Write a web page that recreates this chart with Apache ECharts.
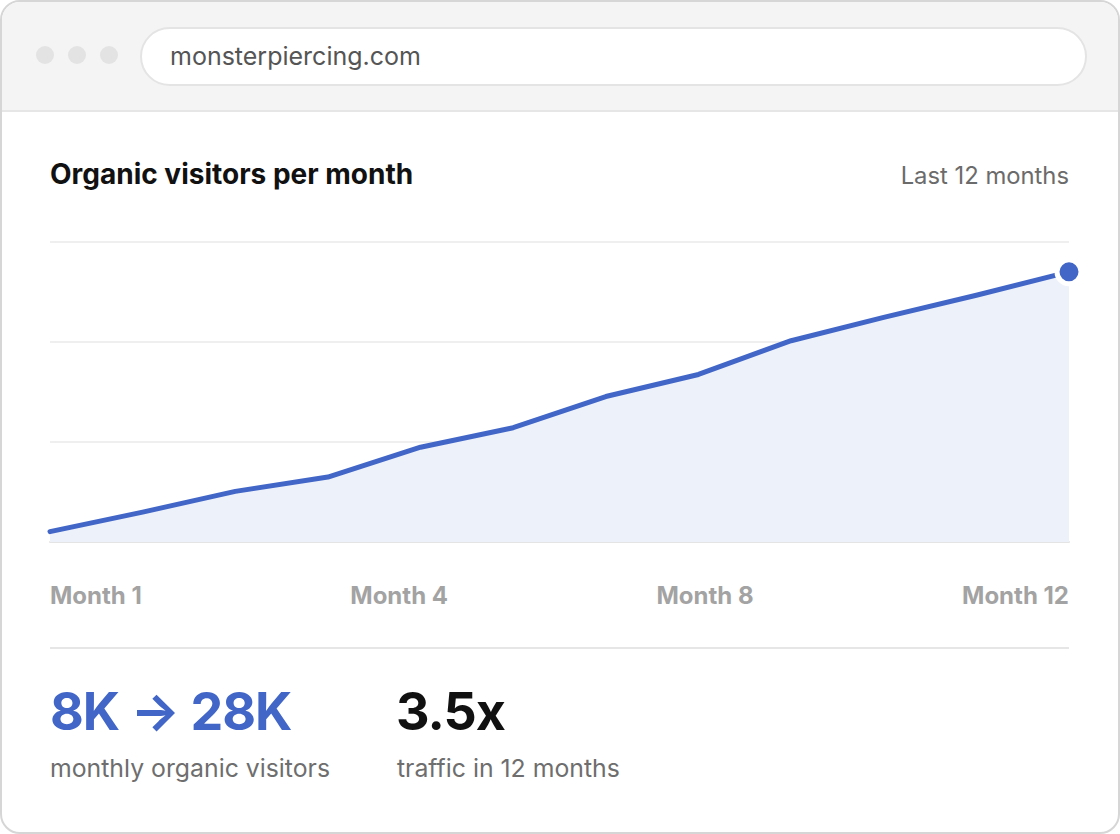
<!DOCTYPE html>
<html>
<head>
<meta charset="utf-8">
<script src="https://cdn.jsdelivr.net/npm/echarts@6/dist/echarts.min.js"></script>
<style>
  html, body { margin: 0; padding: 0; background: #fff; }
  body { width: 1120px; height: 834px; position: relative; overflow: hidden;
         font-family: Inter, "Noto Sans", sans-serif; }
  .card { position: absolute; left: 0; top: 0; width: 1120px; height: 834px;
          box-sizing: border-box; border: 2px solid #d6d6d6; border-radius: 20px;
          overflow: hidden; background: #fff; }
  .bar { position: absolute; left: 0; top: 0; width: 100%; height: 110px;
         box-sizing: border-box; background: #f4f4f4; border-bottom: 2px solid #e6e6e6; }
  .dot { position: absolute; top: 44px; width: 18px; height: 18px; border-radius: 50%; background: #e3e3e3; }
  .url { position: absolute; left: 138px; top: 25px; width: 947px; height: 59px;
         box-sizing: border-box; border: 2px solid #e4e4e4; border-radius: 30px; background: #fff;
         padding-left: 28px; font-size: 25px; line-height: 55px; color: #555; }
  .abs { position: absolute; white-space: nowrap; }
  #title { left: 50px; top: 157px; font-size: 28px; line-height: 34px; font-weight: 700; color: #111; }
  #range { right: 51px; top: 160px; font-size: 23.8px; line-height: 32px; color: #6b6b6b; }
  #chart { position: absolute; left: 0; top: 200px; width: 1120px; height: 350px; }
  #months { left: 50px; width: 1019px; top: 580px; display: flex; justify-content: space-between;
            font-size: 24px; line-height: 32px; font-weight: 700; color: #a3a3a3; }
  .sep { position: absolute; left: 50px; width: 1019px; top: 647px; height: 2px; background: #e6e6e6; }
  .big { top: 680px; font-size: 52px; line-height: 64px; font-weight: 700; letter-spacing: -1px; }
  .sub { top: 752px; font-size: 24.8px; line-height: 32px; color: #6e6e6e; }
</style>
</head>
<body>
<div class="card">
  <div class="bar">
    <div class="dot" style="left:34px"></div>
    <div class="dot" style="left:66px"></div>
    <div class="dot" style="left:98px"></div>
    <div class="url">monsterpiercing.com</div>
  </div>
</div>
<div id="title" class="abs">Organic visitors per month</div>
<div id="range" class="abs">Last 12 months</div>
<div id="chart"></div>
<div id="months" class="abs"></div>
<div class="sep"></div>
<div class="abs big" style="left:50px;color:#4166c7">8K → 28K</div>
<div class="abs sub" style="left:50px">monthly organic visitors</div>
<div class="abs big" style="left:396px;color:#111">3.5x</div>
<div class="abs sub" style="left:397px">traffic in 12 months</div>
<script>
// organic visitors per month, in thousands
const months = ["Month 1", "Month 2", "Month 3", "Month 4", "Month 5", "Month 6",
                "Month 7", "Month 8", "Month 9", "Month 10", "Month 11", "Month 12"];
const visitors = [8.0, 9.5, 11.1, 12.2, 14.5, 16.0, 18.4, 20.1, 22.7, 24.5, 26.2, 28.0];
const monthLabels = ["Month 1", "Month 4", "Month 8", "Month 12"];
const yMin = 7.2;
const yMax = 30.3;
const gridSteps = 3;

const blue = "#4166c7";

document.getElementById("months").innerHTML =
  monthLabels.map(m => "<span>" + m + "</span>").join("");

const chart = echarts.init(document.getElementById("chart"), null, { renderer: "canvas" });

// last point gets the round marker
const seriesData = visitors.map((v, i) => i === visitors.length - 1
  ? { value: v, symbol: "circle", symbolSize: 24,
      itemStyle: { color: blue, borderColor: "#fff", borderWidth: 5 } }
  : { value: v });

chart.setOption({
  animation: false,
  grid: { left: 50, right: 51, top: 42, bottom: 8 },
  xAxis: {
    type: "category",
    data: months,
    boundaryGap: false,
    axisLine: { lineStyle: { color: "#e4e4e4", width: 2 } },
    axisTick: { show: false },
    axisLabel: { show: false },
    splitLine: { show: false }
  },
  yAxis: [
    { type: "value", min: yMin, max: yMax, show: false, splitLine: { show: false } },
    // plain helper axis only for the even gridlines
    {
      type: "value", min: 0, max: gridSteps, interval: 1, position: "left",
      axisLine: { show: false }, axisTick: { show: false }, axisLabel: { show: false },
      splitLine: { show: true, lineStyle: { color: "#efefef", width: 2 } }
    }
  ],
  series: [{
    type: "line",
    yAxisIndex: 0,
    data: seriesData,
    symbol: "none",
    showSymbol: true,
    clip: false,
    lineStyle: { color: blue, width: 5, cap: "round", join: "round" },
    areaStyle: { color: "#edf1fa", opacity: 1 },
    silent: true
  }]
});
</script>
</body>
</html>
